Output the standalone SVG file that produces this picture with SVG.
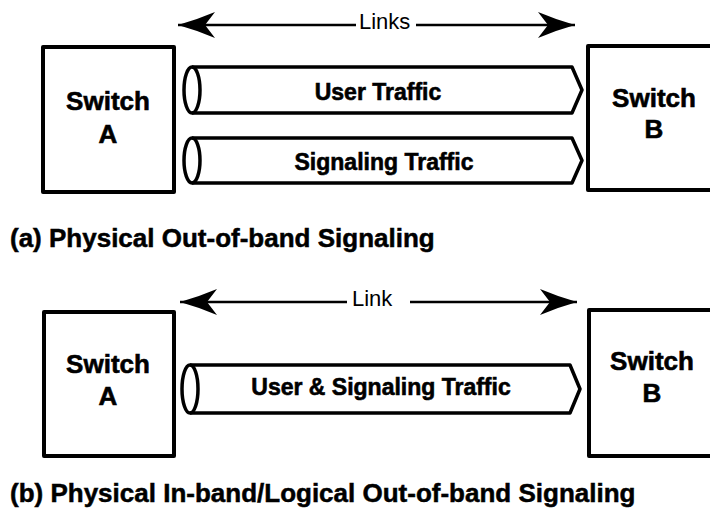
<svg xmlns="http://www.w3.org/2000/svg" width="710" height="516" viewBox="0 0 710 516">
  <defs>
    <marker id="head" markerUnits="userSpaceOnUse" markerWidth="40" markerHeight="30" viewBox="-38 -15 40 30" refX="0" refY="0" orient="auto-start-reverse">
      <path d="M0,0 Q-18,-5 -37,-13 L-27,0 L-37,13 Q-18,5 0,0 Z" fill="#000"/>
    </marker>
    <style>
      .box { fill: #fff; stroke: #000; stroke-width: 4; stroke-linejoin: round; }
      .pipe { fill: #fff; stroke: #000; stroke-width: 3.5; stroke-linejoin: round; }
      .end { fill: none; stroke: #000; stroke-width: 3.5; }
      .lbl { font-family: "Liberation Sans", Arial, sans-serif; font-weight: bold; fill: #000; stroke: #000; stroke-width: 0.6; text-anchor: middle; }
      .sw { font-size: 26px; }
      .tr { font-size: 23px; }
      .cap { font-family: "Liberation Sans", Arial, sans-serif; font-weight: bold; font-size: 26px; fill: #000; stroke: #000; stroke-width: 0.5; }
      .lk { font-family: "Liberation Sans", Arial, sans-serif; font-size: 22px; fill: #000; }
      .ln { stroke: #000; stroke-width: 2.5; fill: none; }
    </style>
  </defs>
  <rect width="710" height="516" fill="#fff"/>

  <!-- (a) physical out-of-band -->
  <g id="switchA1">
    <rect class="box" x="43" y="47" width="131" height="145"/>
    <text class="lbl sw" x="108" y="110">Switch</text>
    <text class="lbl sw" x="108" y="143">A</text>
  </g>
  <g id="switchB1">
    <rect class="box" x="588" y="46" width="140" height="144"/>
    <text class="lbl sw" x="654" y="107">Switch</text>
    <text class="lbl sw" x="654" y="138">B</text>
  </g>
  <g id="userPipe">
    <path class="pipe" d="M192,67 L572,67 L582,90 L572,113 L192,113 A8,23 0 0 1 192,67 Z"/>
    <path class="end" d="M192,67 A8,23 0 0 1 192,113"/>
    <text class="lbl tr" x="378" y="100">User Traffic</text>
  </g>
  <g id="signalPipe">
    <path class="pipe" d="M192,138 L572,138 L582,160.5 L572,183 L192,183 A8,22.5 0 0 1 192,138 Z"/>
    <path class="end" d="M192,138 A8,22.5 0 0 1 192,183"/>
    <text class="lbl tr" x="384" y="170">Signaling Traffic</text>
  </g>
  <text class="cap" x="10" y="247">(a) Physical Out-of-band Signaling</text>

  <!-- (b) physical in-band / logical out-of-band -->
  <g id="switchA2">
    <rect class="box" x="44" y="312" width="130" height="144"/>
    <text class="lbl sw" x="108" y="373">Switch</text>
    <text class="lbl sw" x="108" y="405">A</text>
  </g>
  <g id="switchB2">
    <rect class="box" x="589" y="310" width="140" height="146"/>
    <text class="lbl sw" x="652" y="370">Switch</text>
    <text class="lbl sw" x="652" y="402">B</text>
  </g>
  <g id="sharedPipe">
    <path class="pipe" d="M190,365 L570,365 L580,389 L570,413 L190,413 A8,24 0 0 1 190,365 Z"/>
    <path class="end" d="M190,365 A8,24 0 0 1 190,413"/>
    <text class="lbl tr" x="381" y="395">User &amp; Signaling Traffic</text>
  </g>
  <text class="cap" x="10" y="502">(b) Physical In-band/Logical Out-of-band Signaling</text>

  <!-- span arrows -->
  <g id="connectors">
    <line class="ln" x1="356" y1="25" x2="178" y2="25" marker-end="url(#head)"/>
    <line class="ln" x1="416" y1="25" x2="575" y2="25" marker-end="url(#head)"/>
    <text class="lk" x="359" y="29">Links</text>
    <line class="ln" x1="347" y1="302" x2="180" y2="302" marker-end="url(#head)"/>
    <line class="ln" x1="410" y1="302" x2="577" y2="302" marker-end="url(#head)"/>
    <text class="lk" x="352" y="306">Link</text>
  </g>
</svg>
